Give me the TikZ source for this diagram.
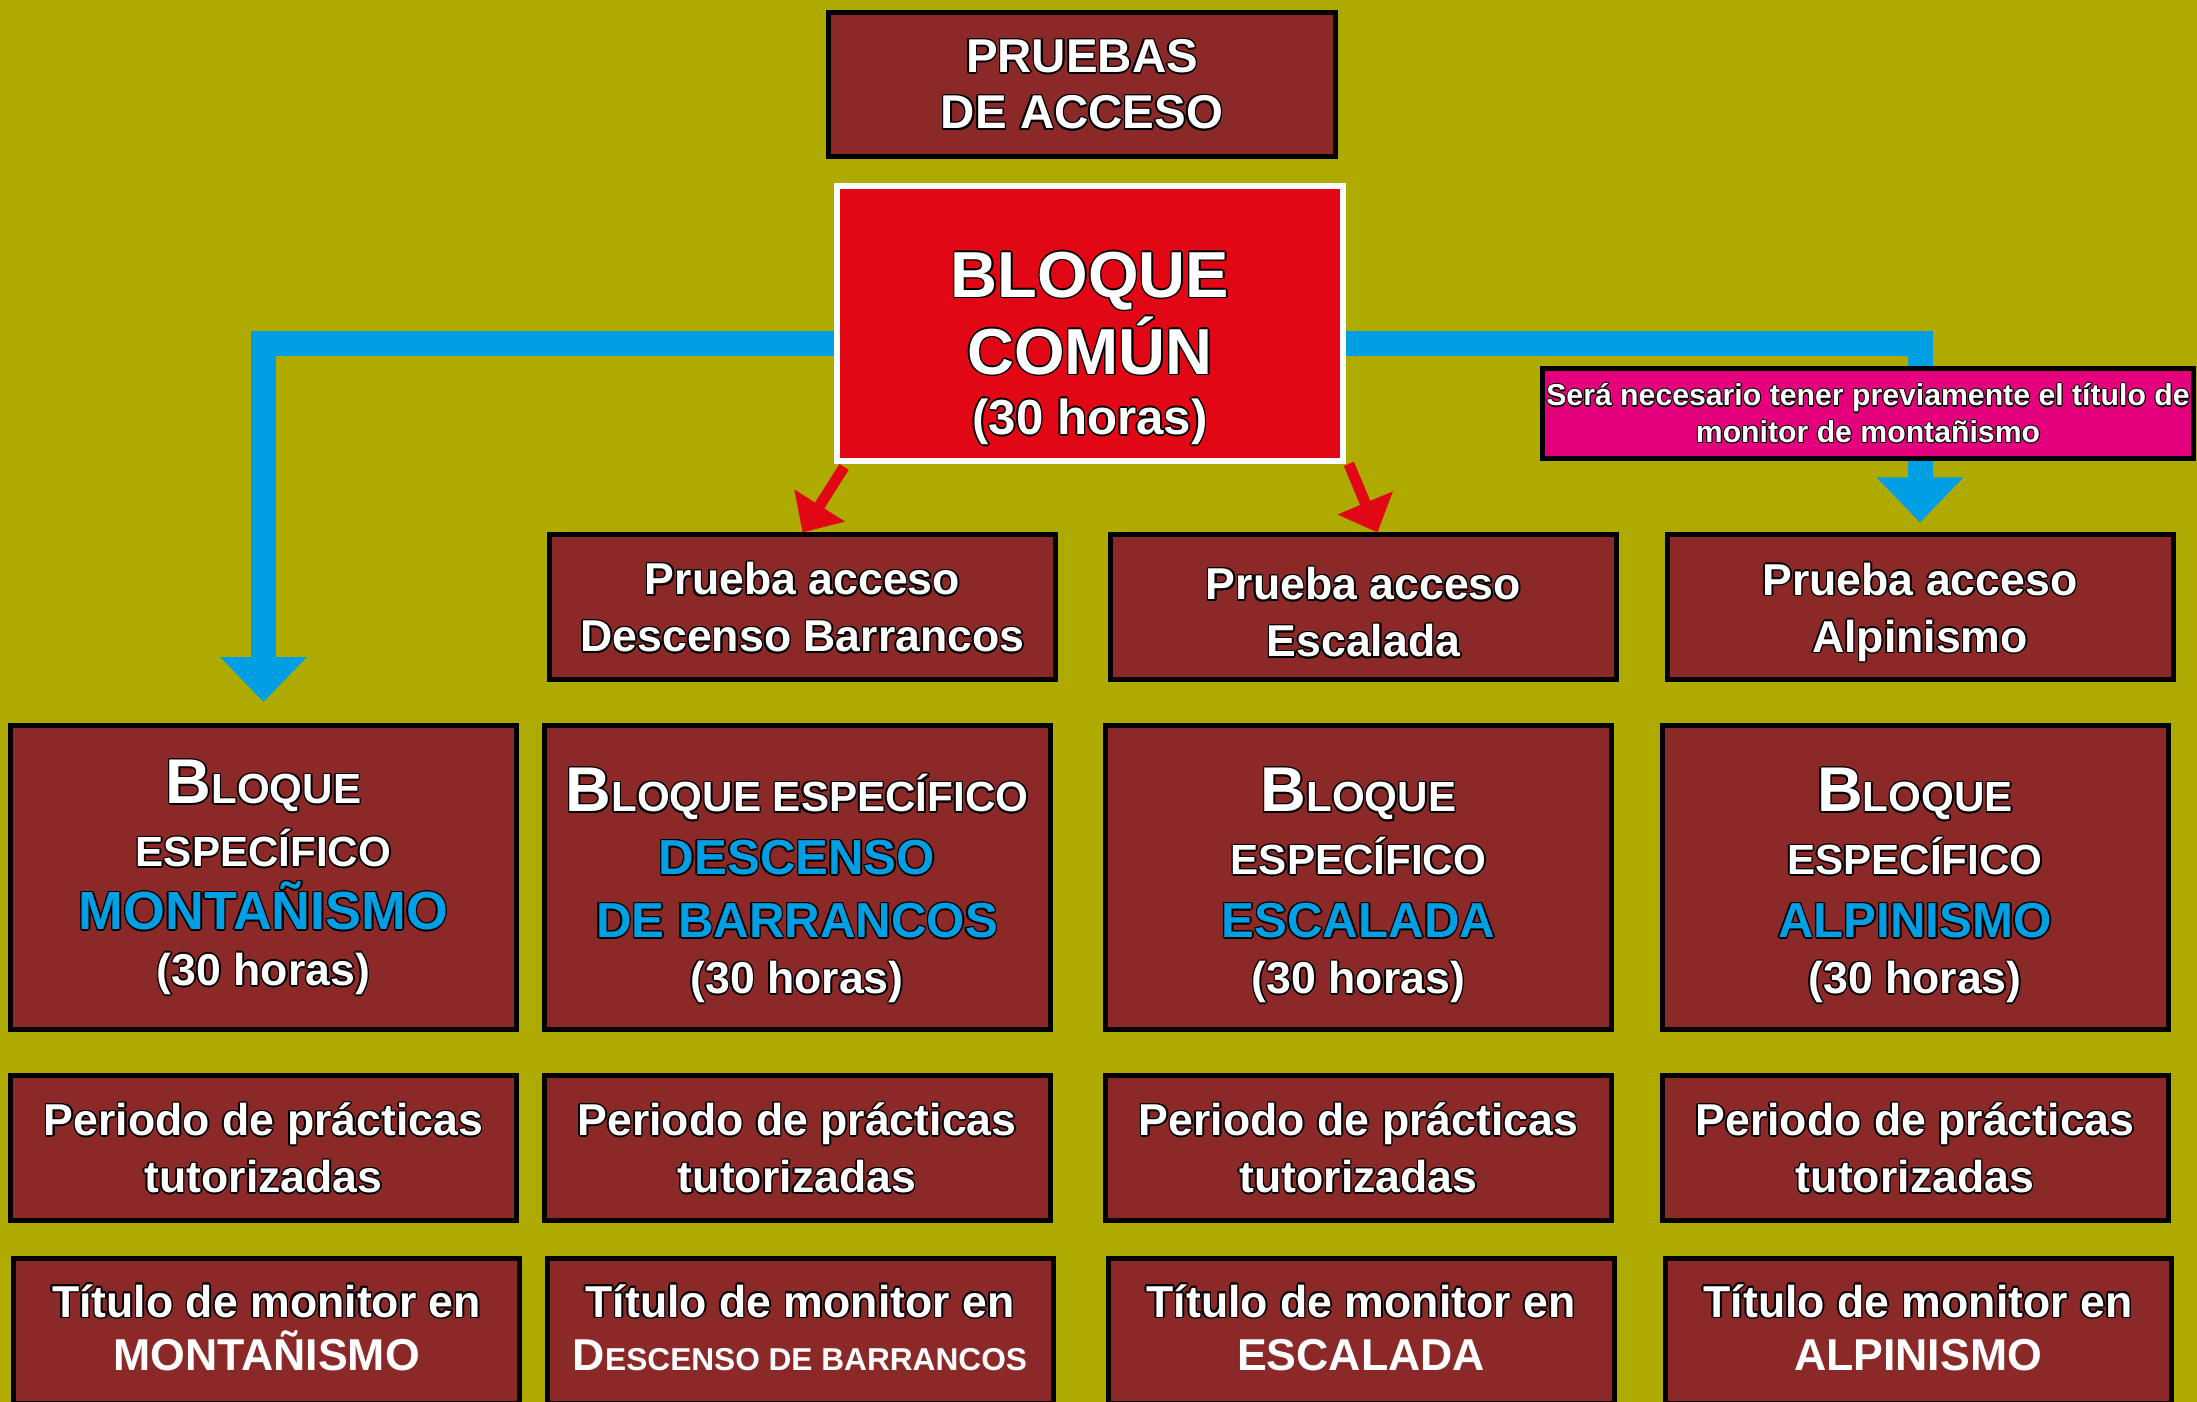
\documentclass[tikz,border=0pt]{standalone}
\usepackage{fontspec}
\setmainfont{Liberation Sans}
\usetikzlibrary{arrows.meta}
\definecolor{bgolive}{HTML}{AFAA00}
\definecolor{boxred}{HTML}{8B2929}
\definecolor{comunred}{HTML}{E20714}
\definecolor{lineblue}{HTML}{009FE3}
\definecolor{notepink}{HTML}{E4007C}
\pgfdeclarelayer{bg}
\pgfdeclarelayer{back}
\pgfsetlayers{bg,back,main}
\newlength\olw
\setlength\olw{0.45pt}
\newcommand\olcopy[2]{\rlap{\hskip#1\raise#2\copy0}}
\newcommand\outl[2][white]{{\leavevmode\setbox0\hbox{#2}%
  {\color{black}\olcopy{\olw}{0pt}\olcopy{-\olw}{0pt}\olcopy{0pt}{\olw}\olcopy{0pt}{-\olw}%
   \olcopy{.7\olw}{.7\olw}\olcopy{-.7\olw}{.7\olw}\olcopy{.7\olw}{-.7\olw}\olcopy{-.7\olw}{-.7\olw}}%
  {\color{#1}\box0}}}
\newcommand\topstrut[1]{\rule{0pt}{#1}}
\newcommand\smcap[2]{{\fontsize{18}{18}\selectfont#1}{\fontsize{12}{12}\selectfont#2}}
\newcommand\smcapt[2]{#1{\fontsize{9}{9}\selectfont#2}}
\begin{document}
\begin{tikzpicture}[x=0.1mm,y=-0.1mm,
    box/.style={draw=black,line width=0.5mm,fill=boxred,inner sep=0pt,align=center,
      minimum width=50.6mm,minimum height=14.5mm,font={\fontsize{12.7}{16.2}\selectfont\bfseries}},
    tallbox/.style={box,minimum height=30.4mm,font={\fontsize{12.7}{17.9}\selectfont\bfseries}},
    blueline/.style={draw=lineblue,line width=2.5mm,-{Triangle[width=8.4mm,length=4.5mm]}},
    redline/.style={draw=comunred,line width=1.1mm,-{Triangle[width=5.8mm,length=3.2mm]}}]
\useasboundingbox (0,0) rectangle (2197,1402);
\begin{pgfonlayer}{bg}
\fill[bgolive] (0,0) rectangle (2197,1402);
\end{pgfonlayer}
\node[box,minimum width=50.7mm,minimum height=14.4mm,font={\fontsize{13.5}{16}\selectfont\bfseries}] (acceso) at (1082,84.5) {\outl{PRUEBAS}\\\outl{DE ACCESO}};
\node[box,draw=white,line width=0.57mm,fill=comunred,minimum height=27.5mm,font={\fontsize{18.5}{21.9}\selectfont\bfseries}] (comun) at (1090,323.5) {\topstrut{27.5pt}\outl{BLOQUE}\\\outl{COMÚN}\\[-4.8pt]\outl{\fontsize{14}{14}\selectfont(30 horas)}};
\node[box,fill=notepink,minimum width=65.1mm,minimum height=9mm,font={\fontsize{8.6}{10.5}\selectfont\bfseries\setlength\olw{0.3pt}}] (nota) at (1868,413.5) {\outl{Será necesario tener previamente el título de}\\\outl{monitor de montañismo}};
\foreach \x/\nm/\txt/\st in {802.5/descp/Descenso Barrancos/0pt,1363.5/escp/Escalada/12.5pt,1920/alpp/{\smash{Alpinismo}}/0pt}
  \node[box] (\nm) at (\x,607.5) {\topstrut{\st}\outl{Prueba acceso}\\\outl{\txt}};
\node[tallbox] (mont) at (263.5,877.5) {\outl{\smcap{B}{LOQUE}}\\\outl{\fontsize{12}{12}\selectfont ESPECÍFICO}\\\outl[lineblue]{\fontsize{15.3}{15}\selectfont MONTAÑISMO}\\[-2pt]\outl{(30 horas)}};
\node[tallbox] (desc) at (797,877.5) {\topstrut{17.5pt}\outl{\smcap{B}{LOQUE ESPECÍFICO}}\\\outl[lineblue]{\fontsize{14}{14}\selectfont DESCENSO}\\\outl[lineblue]{\fontsize{14}{14}\selectfont DE BARRANCOS}\\[-2pt]\outl{(30 horas)}};
\node[tallbox] (esc) at (1358.5,877.5) {\topstrut{17.5pt}\outl{\smcap{B}{LOQUE}}\\\outl{\fontsize{12}{12}\selectfont ESPECÍFICO}\\\outl[lineblue]{\fontsize{14}{14}\selectfont ESCALADA}\\[-2pt]\outl{(30 horas)}};
\node[tallbox] (alp) at (1915,877.5) {\topstrut{17.5pt}\outl{\smcap{B}{LOQUE}}\\\outl{\fontsize{12}{12}\selectfont ESPECÍFICO}\\\outl[lineblue]{\fontsize{14}{14}\selectfont ALPINISMO}\\[-2pt]\outl{(30 horas)}};
\foreach \x/\nm in {263.5/mont,797/desc,1358.5/esc,1915/alp}
  \node[box] (per\nm) at (\x,1148) {\outl{Periodo de prácticas}\\\outl{tutorizadas}};
\foreach \x/\nm/\txt in {266.5/mont/MONTAÑISMO,800/desc/{\smcapt{D}{ESCENSO DE BARRANCOS}},1361/esc/ESCALADA,1918/alp/ALPINISMO}
  \node[box,text=white] (tit\nm) at (\x,1331) {\outl{Título de monitor en}\\[-1pt]\txt\rule[-2.5pt]{0pt}{0pt}};
\begin{pgfonlayer}{back}
\draw[blueline] ([yshift=-2mm]comun.west) -| ([yshift=2.1mm]mont.north);
\draw[blueline] ([yshift=-2mm]comun.east) -| ([yshift=1mm]alpp.north);
\draw[redline] ([xshift=1mm,yshift=-0.3mm]comun.south west) -- (descp.north);
\draw[redline] ([xshift=0.3mm]comun.south east) -- ([xshift=1.4mm]escp.north);
\end{pgfonlayer}
\end{tikzpicture}
\end{document}
